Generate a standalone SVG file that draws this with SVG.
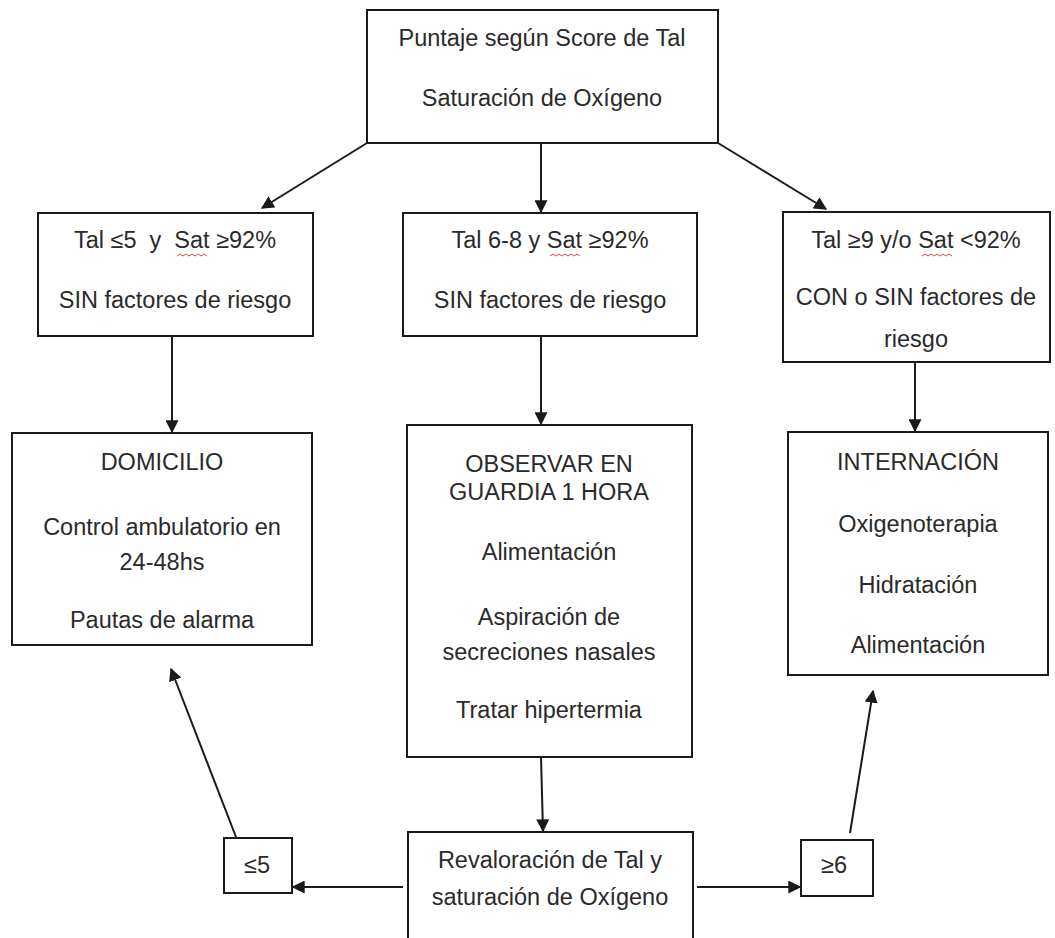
<svg xmlns="http://www.w3.org/2000/svg" width="1055" height="938" viewBox="0 0 1055 938">
<defs>
<style>
.box{fill:#fff;stroke:#1a1a1a;stroke-width:2}
.t{font-family:"Liberation Sans",Arial,sans-serif;font-size:23.5px;fill:#2a2a2a;text-anchor:middle}
.c{fill:none;stroke:#1a1a1a;stroke-width:2}
.w{fill:none;stroke:#d04848;stroke-width:1}
</style>
<marker id="ah" viewBox="0 0 10 10" refX="9" refY="5" markerWidth="6.5" markerHeight="6.5" orient="auto" markerUnits="strokeWidth">
<path d="M0,0 L10,5 L0,10 z" fill="#1a1a1a"/>
</marker>
</defs>
<rect width="1055" height="938" fill="#fff"/>
<g id="connectors">
<line class="c" x1="367" y1="143" x2="262" y2="208" marker-end="url(#ah)"/>
<line class="c" x1="541" y1="143" x2="541" y2="212" marker-end="url(#ah)"/>
<line class="c" x1="718" y1="143" x2="826" y2="209" marker-end="url(#ah)"/>
<line class="c" x1="172" y1="336" x2="172" y2="432" marker-end="url(#ah)"/>
<line class="c" x1="541" y1="336" x2="541" y2="424" marker-end="url(#ah)"/>
<line class="c" x1="915" y1="362" x2="915" y2="431" marker-end="url(#ah)"/>
<line class="c" x1="541" y1="757" x2="543" y2="831" marker-end="url(#ah)"/>
<line class="c" x1="403" y1="887" x2="293" y2="887" marker-end="url(#ah)"/>
<line class="c" x1="697" y1="887" x2="800" y2="887" marker-end="url(#ah)"/>
<line class="c" x1="236" y1="837" x2="171" y2="669" marker-end="url(#ah)"/>
<line class="c" x1="850" y1="833" x2="873" y2="691" marker-end="url(#ah)"/>
</g>
<g id="n-top">
<rect class="box" x="367" y="10" width="351" height="133"/>
<text class="t" x="542" y="46">Puntaje según Score de Tal</text>
<text class="t" x="542" y="106">Saturación de Oxígeno</text>
</g>
<g id="n-tal5">
<rect class="box" x="38" y="213" width="275" height="123"/>
<text class="t" x="175" y="248" xml:space="preserve">Tal ≤5  y  Sat ≥92%</text>
<path class="w" d="M177,256 l3,-2 l3,2 l3,-2 l3,2 l3,-2 l3,2 l3,-2 l3,2 l3,-2 l3,2"/>
<text class="t" x="175" y="308">SIN factores de riesgo</text>
</g>
<g id="n-tal68">
<rect class="box" x="403" y="213" width="294" height="123"/>
<text class="t" x="550" y="248">Tal 6-8 y Sat ≥92%</text>
<path class="w" d="M550,256 l3,-2 l3,2 l3,-2 l3,2 l3,-2 l3,2 l3,-2 l3,2 l3,-2 l3,2"/>
<text class="t" x="550" y="308">SIN factores de riesgo</text>
</g>
<g id="n-tal9">
<rect class="box" x="783" y="212" width="267" height="150"/>
<text class="t" x="916" y="248">Tal ≥9 y/o Sat &lt;92%</text>
<path class="w" d="M922,256 l3,-2 l3,2 l3,-2 l3,2 l3,-2 l3,2 l3,-2 l3,2 l3,-2 l3,2"/>
<text class="t" x="916" y="305">CON o SIN factores de</text>
<text class="t" x="916" y="347">riesgo</text>
</g>
<g id="n-domicilio">
<rect class="box" x="12" y="433" width="300" height="212"/>
<text class="t" x="162" y="470">DOMICILIO</text>
<text class="t" x="162" y="535">Control ambulatorio en</text>
<text class="t" x="162" y="570">24-48hs</text>
<text class="t" x="162" y="628">Pautas de alarma</text>
</g>
<g id="n-observar">
<rect class="box" x="407" y="425" width="285" height="332"/>
<text class="t" x="549" y="472">OBSERVAR EN</text>
<text class="t" x="549" y="500">GUARDIA 1 HORA</text>
<text class="t" x="549" y="560">Alimentación</text>
<text class="t" x="549" y="625">Aspiración de</text>
<text class="t" x="549" y="660">secreciones nasales</text>
<text class="t" x="549" y="718">Tratar hipertermia</text>
</g>
<g id="n-internacion">
<rect class="box" x="788" y="432" width="260" height="243"/>
<text class="t" x="918" y="470">INTERNACIÓN</text>
<text class="t" x="918" y="532">Oxigenoterapia</text>
<text class="t" x="918" y="593">Hidratación</text>
<text class="t" x="918" y="653">Alimentación</text>
</g>
<g id="n-revaloracion">
<rect class="box" x="408" y="832" width="285" height="130"/>
<text class="t" x="550" y="868">Revaloración de Tal y</text>
<text class="t" x="550" y="905">saturación de Oxígeno</text>
</g>
<g id="n-le5">
<rect class="box" x="224" y="838" width="68" height="55"/>
<text class="t" x="257" y="873">≤5</text>
</g>
<g id="n-ge6">
<rect class="box" x="801" y="840" width="72" height="56"/>
<text class="t" x="834" y="873">≥6</text>
</g>
</svg>
